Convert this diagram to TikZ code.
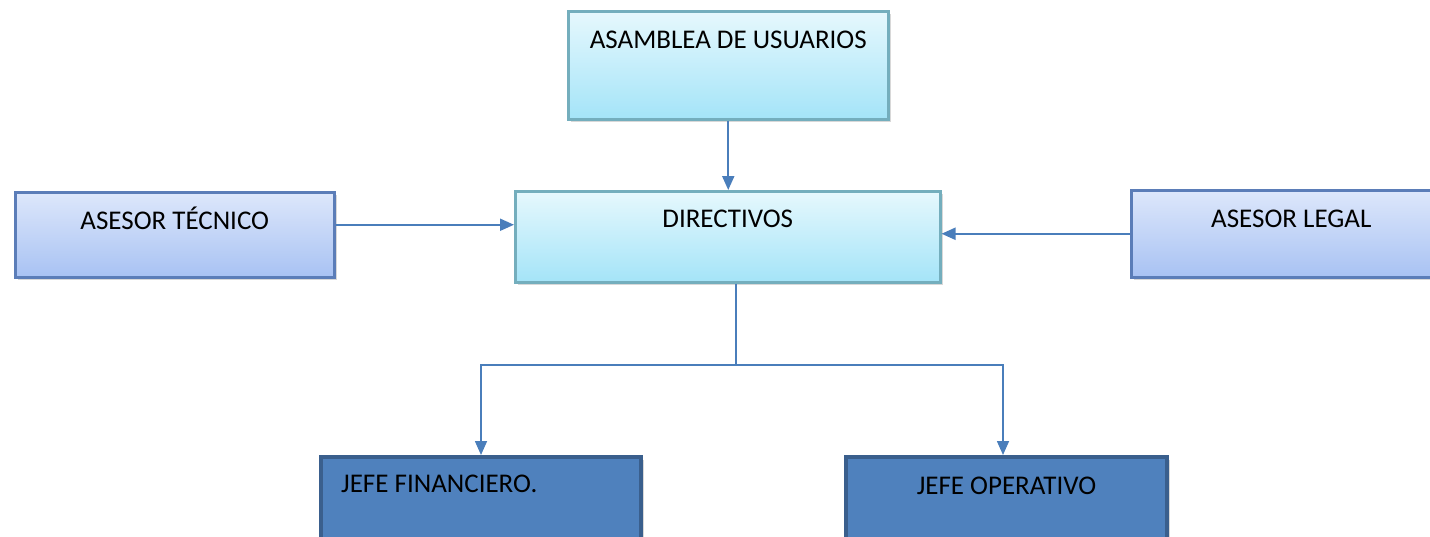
\documentclass[tikz,border=0pt]{standalone}
\usepackage{fontspec}
\setmainfont{Carlito}
\usetikzlibrary{arrows.meta,positioning,shadows}
\definecolor{CyanTop}{HTML}{E6F8FD}
\definecolor{CyanBot}{HTML}{A4E4F8}
\definecolor{CyanRule}{HTML}{74AEBD}
\definecolor{LavTop}{HTML}{DDE7FB}
\definecolor{LavBot}{HTML}{A8C2F3}
\definecolor{LavRule}{HTML}{5B7DB8}
\definecolor{Navy}{HTML}{4F81BD}
\definecolor{NavyRule}{HTML}{3A5F8D}
\definecolor{Link}{HTML}{4A7EBB}
\tikzset{box/.style={anchor=north west,inner sep=0pt,line width=2.5pt,
    drop shadow={shadow xshift=3pt,shadow yshift=-3pt,fill=black!30,opacity=.5}},
  cyanbox/.style={box,draw=CyanRule,top color=CyanTop,bottom color=CyanBot},
  lavbox/.style={box,draw=LavRule,top color=LavTop,bottom color=LavBot},
  navybox/.style={box,draw=NavyRule,fill=Navy,line width=4pt},
  lbl/.style={inner sep=0pt,font=\fontsize{27}{32}\selectfont,text=black},
  link/.style={line width=1.6pt,draw=Link},
  edge/.style={-{Triangle[length=14pt,width=12pt]},line width=2pt,draw=Link}}
\begin{document}
\begin{tikzpicture}[x=1pt,y=-1pt]
    \useasboundingbox (0,0) rectangle (1430,536);
    \clip (0,0) rectangle (1430,536);
    % top level
    \node[cyanbox,minimum width=320pt,minimum height=108pt] (asm) at (567,10) {};
    \node[lbl,below=21pt of asm.north] {ASAMBLEA DE USUARIOS};
    \node[cyanbox,minimum width=425pt,minimum height=91pt] (dir) at (514,190) {};
    \node[lbl,below=20pt of dir.north] {DIRECTIVOS};
    % advisers
    \node[lavbox,minimum width=319pt,minimum height=85pt] (tec) at (14,191) {};
    \node[lbl,below=16pt of tec.north] {ASESOR TÉCNICO};
    \node[lavbox,minimum width=320pt,minimum height=87pt] (leg) at (1130,189) {};
    \node[lbl,anchor=north west] at ([xshift=81pt,yshift=-21pt]leg.north west) {ASESOR LEGAL};
    % heads
    \node[navybox,minimum width=320pt,minimum height=92pt] (fin) at (319,455) {};
    \node[lbl,anchor=north west] at ([xshift=22pt,yshift=-20pt]fin.north west) {JEFE FINANCIERO.};
    \node[navybox,minimum width=321pt,minimum height=92pt] (ope) at (844,455) {};
    \node[lbl,below=22pt of ope.north] {JEFE OPERATIVO};
    % connectors
    \coordinate (split) at (736,365);
    \draw[edge] (asm.south) -- (asm.south |- dir.north);
    \draw[edge] ([yshift=10pt]tec.east) -- ([yshift=10pt]tec.east -| dir.west);
    \draw[edge] (leg.west) -- (leg.west -| dir.east);
    \draw[link] (split |- dir.south) -- (split);
    \draw[edge,line width=1.6pt] (split) -| (fin.north);
    \draw[edge,line width=1.6pt] (split) -| ([xshift=-3.5pt]ope.north);
\end{tikzpicture}
\end{document}
